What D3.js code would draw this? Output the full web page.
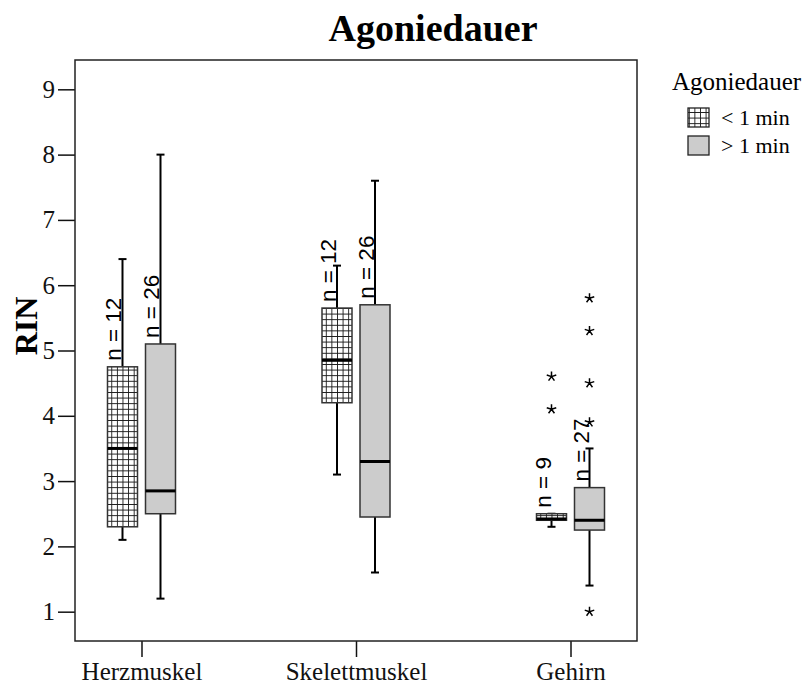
<!DOCTYPE html>
<html>
<head>
<meta charset="utf-8">
<script src="https://cdn.jsdelivr.net/npm/d3@7"></script>
<style>
  html, body { margin: 0; padding: 0; background: #fff; }
  svg { display: block; }
</style>
</head>
<body>
<svg id="chart" width="806" height="685"></svg>
<script>
// Tissue categories on the x axis
const categories = ["Herzmuskel", "Skelettmuskel", "Gehirn"];
const groups = ["< 1 min", "> 1 min"];
const yTicks = [1, 2, 3, 4, 5, 6, 7, 8, 9];

// Box statistics, agony duration < 1 min
const shortLow = [2.1, 3.1, 2.3];
const shortQ1 = [2.3, 4.2, 2.4];
const shortMedian = [3.5, 4.85, 2.42];
const shortQ3 = [4.75, 5.65, 2.5];
const shortHigh = [6.4, 6.3, 2.5];
const shortN = [12, 12, 9];
const shortOutliers = [[], [], [4.1, 4.6]];

// Box statistics, agony duration > 1 min
const longLow = [1.2, 1.6, 1.4];
const longQ1 = [2.5, 2.45, 2.25];
const longMedian = [2.85, 3.3, 2.4];
const longQ3 = [5.1, 5.7, 2.9];
const longHigh = [8.0, 7.6, 3.5];
const longN = [26, 26, 27];
const longOutliers = [[], [], [1.0, 3.9, 4.5, 5.3, 5.8]];

const boxes = [];
categories.forEach((c, i) => {
  boxes.push({cat: c, group: groups[0], low: shortLow[i], q1: shortQ1[i], med: shortMedian[i], q3: shortQ3[i], high: shortHigh[i], n: shortN[i], out: shortOutliers[i]});
  boxes.push({cat: c, group: groups[1], low: longLow[i], q1: longQ1[i], med: longMedian[i], q3: longQ3[i], high: longHigh[i], n: longN[i], out: longOutliers[i]});
});

const serif = "Liberation Serif, Times New Roman, serif";
const svg = d3.select("#chart");
const frame = {left: 75, right: 637, top: 60, bottom: 641};

const x = d3.scalePoint().domain(categories).range([frame.left, frame.right]).padding(0.31);
const offset = d3.scaleOrdinal().domain(groups).range([-19, 19]);
const boxW = 30;
const y = d3.scaleLinear().domain([0.551, 9.449]).range([frame.bottom, frame.top]);

// Crosshatch pattern for the short-duration group
const defs = svg.append("defs");
const pat = defs.append("pattern")
  .attr("id", "hatch").attr("patternUnits", "userSpaceOnUse")
  .attr("width", 5.6).attr("height", 5.6);
pat.append("rect").attr("width", 5.6).attr("height", 5.6).attr("fill", "#fff");
pat.append("path").attr("d", "M0,0H5.6M0,0V5.6")
  .attr("stroke", "#1a1a1a").attr("stroke-width", 1.8).attr("fill", "none");
const fillFor = g => g === groups[0] ? "url(#hatch)" : "#cccccc";

// Title
svg.append("text").attr("x", 433).attr("y", 41).attr("text-anchor", "middle")
  .attr("font-family", serif)
  .attr("font-weight", "bold").attr("font-size", 38).text("Agoniedauer");

// Axes
const yAxis = d3.axisLeft(y).tickValues(yTicks).tickSize(17).tickPadding(3).tickFormat(d3.format("d"));
const gy = svg.append("g").attr("transform", `translate(${frame.left},0)`).call(yAxis)
  .attr("font-family", serif).attr("font-size", 25);
gy.select(".domain").remove();
gy.selectAll("line").attr("stroke", "#111").attr("stroke-width", 1.5);
gy.selectAll("text").attr("fill", "#111");

const xAxis = d3.axisBottom(x).tickSize(16).tickPadding(5);
const gx = svg.append("g").attr("transform", `translate(0,${frame.bottom})`).call(xAxis)
  .attr("font-family", serif).attr("font-size", 25);
gx.select(".domain").remove();
gx.selectAll("line").attr("stroke", "#111").attr("stroke-width", 1.5);
gx.selectAll("text").attr("fill", "#111");

// Plot frame
svg.append("rect").attr("x", frame.left).attr("y", frame.top)
  .attr("width", frame.right - frame.left).attr("height", frame.bottom - frame.top)
  .attr("fill", "none").attr("stroke", "#222").attr("stroke-width", 1.5);

// Y axis title
svg.append("text").attr("transform", `translate(37,326) rotate(-90)`)
  .attr("text-anchor", "middle")
  .attr("font-family", serif)
  .attr("font-weight", "bold").attr("font-size", 32).text("RIN");

// Boxplots
const bg = svg.append("g").selectAll("g").data(boxes).join("g")
  .attr("transform", d => `translate(${x(d.cat) + offset(d.group)},0)`);

// whiskers
bg.append("line").attr("y1", d => y(d.high)).attr("y2", d => y(d.q3))
  .attr("stroke", "#000").attr("stroke-width", 2);
bg.append("line").attr("y1", d => y(d.q1)).attr("y2", d => y(d.low))
  .attr("stroke", "#000").attr("stroke-width", 2);
bg.append("line").attr("x1", -4).attr("x2", 4).attr("y1", d => y(d.high)).attr("y2", d => y(d.high))
  .attr("stroke", "#000").attr("stroke-width", 2);
bg.append("line").attr("x1", -4).attr("x2", 4).attr("y1", d => y(d.low)).attr("y2", d => y(d.low))
  .attr("stroke", "#000").attr("stroke-width", 2);

// box body
bg.append("rect").attr("x", -boxW / 2).attr("width", boxW)
  .attr("y", d => y(d.q3)).attr("height", d => y(d.q1) - y(d.q3))
  .attr("fill", d => fillFor(d.group)).attr("stroke", "#333").attr("stroke-width", 1.5);

// median
bg.append("line").attr("x1", -boxW / 2).attr("x2", boxW / 2)
  .attr("y1", d => y(d.med)).attr("y2", d => y(d.med))
  .attr("stroke", "#000").attr("stroke-width", 3);

// sample size labels
bg.append("text")
  .attr("transform", d => `translate(-1,${y(d.q3) - 6}) rotate(-90)`)
  .attr("font-family", "Liberation Sans, Arial, sans-serif")
  .attr("font-size", 22.5).attr("fill", "#000")
  .text(d => `n = ${d.n}`);

// extreme values drawn as asterisks
const star = {
  draw(ctx, size) {
    const r = Math.sqrt(size) / 2;
    for (let k = 0; k < 5; k++) {
      const a = -Math.PI / 2 + k * 2 * Math.PI / 5;
      ctx.moveTo(0, 0);
      ctx.lineTo(r * Math.cos(a), r * Math.sin(a));
    }
  }
};
const starGen = d3.symbol().type(star).size(100);
bg.selectAll("path.out").data(d => d.out).join("path").attr("class", "out")
  .attr("transform", v => `translate(0,${y(v)})`)
  .attr("d", starGen).attr("fill", "none").attr("stroke", "#000").attr("stroke-width", 1.5);

// Legend
const lg = svg.append("g");
lg.append("text").attr("x", 672).attr("y", 90)
  .attr("font-family", serif)
  .attr("font-size", 25).text("Agoniedauer");
groups.forEach((g, i) => {
  lg.append("rect").attr("x", 688).attr("y", 108 + i * 28).attr("width", 21).attr("height", 19)
    .attr("fill", fillFor(g)).attr("stroke", "#222").attr("stroke-width", 1.3);
  lg.append("text").attr("x", 721).attr("y", 125 + i * 28)
    .attr("font-family", serif)
    .attr("font-size", 22).text(g);
});
</script>
</body>
</html>
